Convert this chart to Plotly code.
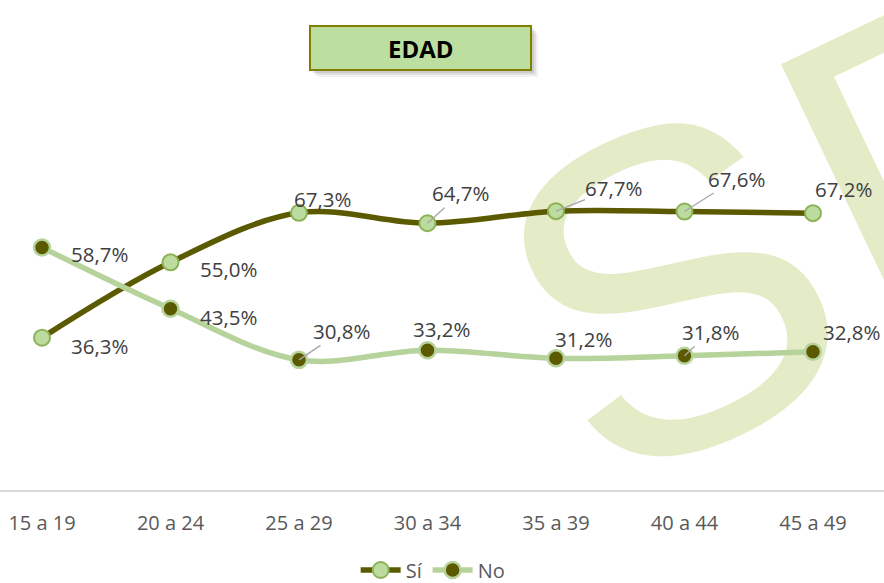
import base64
import plotly.graph_objects as go

# ---------------- data ----------------
categories = ["15 a 19", "20 a 24", "25 a 29", "30 a 34", "35 a 39", "40 a 44", "45 a 49"]
si_values = [36.3, 55.0, 67.3, 64.7, 67.7, 67.6, 67.2]
no_values = [58.7, 43.5, 30.8, 33.2, 31.2, 31.8, 32.8]
series_names = ["Sí", "No"]
title_text = "EDAD"

# ---------------- label placement (pixel offsets) ----------------
si_dx = [57, 58, 24, 33, 58, 52, 31]
si_dy = [8, 7, -14, -30, -23, -33, -24]
si_leader = [False, False, False, True, True, True, False]
no_dx = [57, 58, 43, 14, 28, 26, 39]
no_dy = [7, 8, -29, -21, -19, -24, -20]
no_leader = [False, False, True, False, False, True, False]

# ---------------- layout geometry ----------------
W, H = 884, 583
T, B = 81, 93
PH = H - T - B

def pxx(x):
    return x / W

def pyy(y):
    return (H - B - y) / PH

SI_LINE = "#5c5a00"
SI_MFILL = "#bcdc9f"
SI_MLINE = "#8db255"
NO_LINE = "#b6d39b"
NO_MFILL = "#5c5a00"
NO_MLINE = "#b6d39b"
LABEL_COLOR = "#404040"
TICK_COLOR = "#595959"
FONT = "Open Sans"

def fmt(v):
    return f"{v:.1f}".replace(".", ",") + "%"

fig = go.Figure()
fig.add_trace(go.Scatter(
    x=categories, y=si_values, name=series_names[0], mode="lines+markers",
    line=dict(color=SI_LINE, width=5.5, shape="spline", smoothing=1.0),
    marker=dict(size=16, color=SI_MFILL, line=dict(color=SI_MLINE, width=2)),
    hoverinfo="skip",
))
fig.add_trace(go.Scatter(
    x=categories, y=no_values, name=series_names[1], mode="lines+markers",
    line=dict(color=NO_LINE, width=5.5, shape="spline", smoothing=1.0),
    marker=dict(size=16, color=NO_MFILL, line=dict(color=NO_MLINE, width=2.5)),
    hoverinfo="skip",
))

annotations = []
for vals, dxs, dys, leads in [(si_values, si_dx, si_dy, si_leader),
                              (no_values, no_dx, no_dy, no_leader)]:
    for cat, v, dx, dy, lead in zip(categories, vals, dxs, dys, leads):
        annotations.append(dict(
            x=cat, y=v, xref="x", yref="y", text=fmt(v),
            showarrow=True, ax=dx, ay=dy, arrowhead=0, arrowwidth=1.3,
            arrowcolor="#a6a6a6" if lead else "rgba(0,0,0,0)",
            standoff=0, borderpad=0,
            font=dict(family=FONT, size=20.5, color=LABEL_COLOR),
        ))

# title box text
annotations.append(dict(
    x=pxx(420.5), y=pyy(48), xref="paper", yref="paper", text=f"<b>{title_text}</b>",
    showarrow=False, xanchor="center", yanchor="middle",
    font=dict(family=FONT, size=24, color="#000000"),
))

shapes = []
for off, op in [(7, 0.10), (5, 0.15), (3, 0.22)]:
    shapes.append(dict(
        type="rect", xref="paper", yref="paper",
        x0=pxx(310 + off), x1=pxx(531 + off), y0=pyy(70 + off), y1=pyy(26 + off),
        fillcolor="#808080", opacity=op, line=dict(width=0), layer="above",
    ))
shapes.append(dict(
    type="rect", xref="paper", yref="paper",
    x0=pxx(310), x1=pxx(531), y0=pyy(70), y1=pyy(26),
    fillcolor="#bcdf9f", line=dict(color="#808000", width=2), layer="above",
))

# watermark (background decoration)
svg = (
    f'<svg xmlns="http://www.w3.org/2000/svg" width="{W}" height="{H}" viewBox="0 0 {W} {H}">'
    '<text transform="translate(601,497) rotate(-25.5)" font-family="Liberation Sans" '
    'font-size="455" letter-spacing="8" fill="#e4ebc7">SP</text></svg>'
)
svg_uri = "data:image/svg+xml;base64," + base64.b64encode(svg.encode("utf-8")).decode("ascii")

fig.update_layout(
    width=W, height=H,
    margin=dict(l=0, r=0, t=T, b=B, pad=0, autoexpand=False),
    paper_bgcolor="white", plot_bgcolor="rgba(0,0,0,0)",
    showlegend=True,
    legend=dict(
        orientation="h", x=0.49, xanchor="center", y=pyy(570), yanchor="middle",
        font=dict(family=FONT, size=20, color=TICK_COLOR),
        bgcolor="rgba(0,0,0,0)", itemwidth=40, tracegroupgap=0,
    ),
    xaxis=dict(
        type="category", range=[-0.327, 6.553],
        showgrid=False, zeroline=False, showline=True, linecolor="#d9d9d9", linewidth=1.5,
        ticks="", ticklabelstandoff=14,
        tickfont=dict(family=FONT, size=20, color=TICK_COLOR),
        fixedrange=True, automargin=False,
    ),
    yaxis=dict(
        range=[-1.5, 100], visible=False, showgrid=False, zeroline=False, fixedrange=True,
        automargin=False,
    ),
    annotations=annotations,
    shapes=shapes,
    images=[dict(
        source=svg_uri, xref="paper", yref="paper",
        x=0, y=pyy(0), sizex=1, sizey=H / PH,
        xanchor="left", yanchor="top", sizing="stretch", layer="below",
    )],
)

fig.write_html(
    "out.html",
    config={"displayModeBar": False},
    post_script="document.body.style.margin='0';document.body.style.overflow='hidden';",
)
